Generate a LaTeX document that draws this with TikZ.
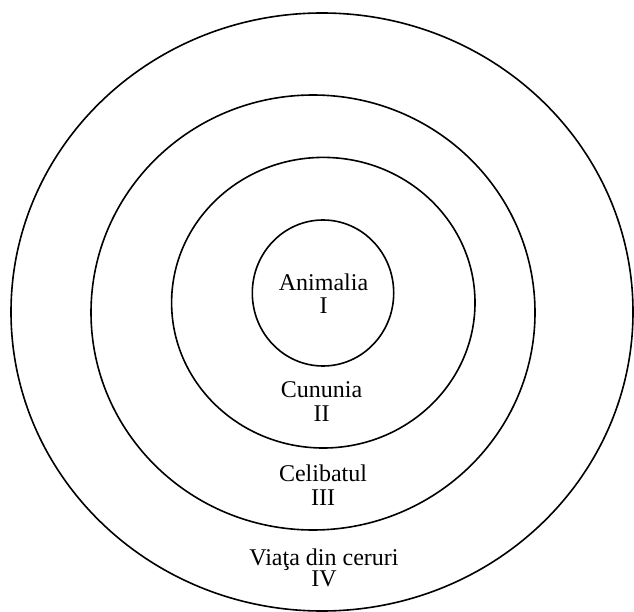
\documentclass[tikz,border=0pt]{standalone}
\usepackage{fontspec}
\setmainfont{Liberation Serif}
\begin{document}
\begin{tikzpicture}[x=1pt,y=-1pt,
  ring/.style={draw=black,line width=1.6pt},
  lbl/.style={anchor=base,inner sep=0pt,font=\fontsize{24}{24}\selectfont}]
\useasboundingbox (0,0) rectangle (634,612);
\fill[white] (0,0) rectangle (634,612);
\draw[ring] (322,312) ellipse [x radius=311, y radius=299];
\draw[ring] (313,312.5) ellipse [x radius=222, y radius=217.5];
\draw[ring] (323.3,302.7) ellipse [x radius=151.7, y radius=145.3];
\draw[ring] (323,293) ellipse [x radius=70.7, y radius=73];
\node[lbl] (a1) at (323.5,290.7) {Animalia};
\node[lbl] (a2) at (323.5,313.3) {I};
\node[lbl] (b1) at (321.5,397) {Cununia};
\node[lbl] (b2) at (321.5,421) {II};
\node[lbl] (c1) at (323,481.7) {Celibatul};
\node[lbl] (c2) at (323,505) {III};
\node[lbl] (d1) at (324,565) {Viaţa din ceruri};
\node[lbl] (d2) at (324,586.7) {IV};
\end{tikzpicture}
\end{document}
